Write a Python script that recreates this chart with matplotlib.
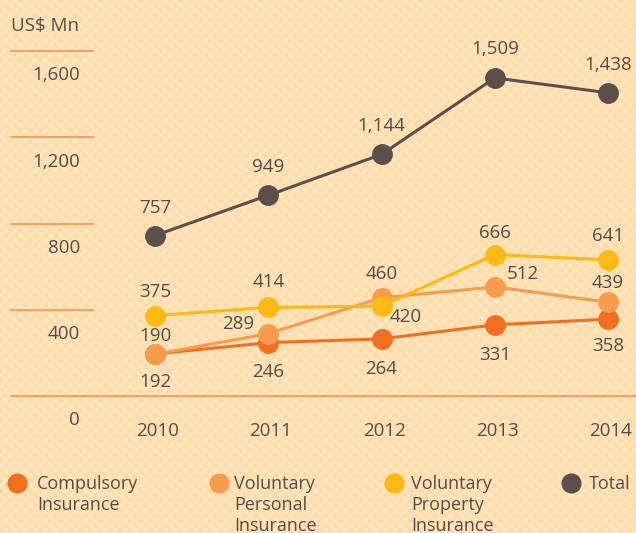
import numpy as np
import matplotlib.pyplot as plt
from matplotlib.lines import Line2D

plt.rcParams['font.family'] = ['Open Sans', 'DejaVu Sans']

years = [2010, 2011, 2012, 2013, 2014]
compulsory = [192, 246, 264, 331, 358]
vol_personal = [190, 289, 460, 512, 439]
vol_property = [375, 414, 420, 666, 641]
total = [757, 949, 1144, 1509, 1438]
y_ticks = [0, 400, 800, 1200, 1600]

TEXT = '#554c4a'
RULE = '#f49354'

series = [
    ("Compulsory\nInsurance", compulsory, '#f26f21'),
    ("Voluntary\nPersonal\nInsurance", vol_personal, '#f79b4c'),
    ("Voluntary\nProperty\nInsurance", vol_property, '#fdb913'),
    ("Total", total, '#5b4f4c'),
]

# label offsets (px) relative to each marker, per series and year
offsets = [
    [(0, -28), (0, -29), (0, -30), (0, -30), (0, -27)],
    [(0, 18), (-30, 10), (0, 24), (28, 13), (0, 19)],
    [(0, 24), (0, 25), (24, -11), (0, 22), (0, 24)],
    [(0, 28), (0, 28), (0, 28), (0, 29), (0, 28)],
]

W, H = 636, 533
fig = plt.figure(figsize=(W / 100, H / 100), dpi=100)

# soft checkered background
yy, xx = np.mgrid[0:H, 0:W]
t = (np.cos(2 * np.pi * xx / 10) * np.cos(2 * np.pi * yy / 10) + 1) / 2
light = np.array([255, 234, 200]) / 255
dark = np.array([253, 215, 160]) / 255
bg = light + (dark - light) * t[..., None]
fig.figimage(bg, 0, 0, zorder=-10)

# scale rules on their own axis
gax = fig.add_axes([0, 0, 1, 1], zorder=-1)
gax.patch.set_alpha(0)
gax.set_xlim(0, 1)
gax.set_ylim(-635.4, 1836.7)
gax.axis('off')
for v in y_ticks:
    x1 = 1.0 if v == 0 else 0.146
    gax.plot([0.017, x1], [v, v], color=RULE, lw=1.2)
    gax.annotate(f"{v:,}", xy=(0.126, v), xytext=(0, -17.5),
                 textcoords='offset points', ha='right', va='center',
                 fontsize=13.5, color=TEXT)

ax = fig.add_axes([0, 0, 1, 1], zorder=1)
ax.patch.set_alpha(0)
ax.set_xlim(2008.631, 2014.247)
ax.set_ylim(-662.2, 1880.7)
ax.axis('off')

fig.text(11 / W, 1 - 26 / H, "US$ Mn", ha='left', va='center',
         fontsize=13.5, color=TEXT)

for (name, vals, color), offs in zip(series, offsets):
    ax.plot(years, vals, color=color, lw=2.2, marker='o', markersize=14,
            zorder=3)
    for x, v, (dx, dy) in zip(years, vals, offs):
        ax.annotate(f"{v:,}", xy=(x, v), xytext=(dx * 0.72, dy * 0.72),
                    textcoords='offset points', ha='center', va='center',
                    fontsize=13.5, color=TEXT, zorder=4)

for x in years:
    ax.annotate(str(x), xy=(x, 0), xycoords=('data', 'axes fraction'),
                xytext=(2, 1 - 431 / H), textcoords=('offset points', 'axes fraction'),
                ha='center', va='center', fontsize=13.5, color=TEXT)

# legend
legend_pos = [(17, 37), (219, 234), (394, 411), (571, 589)]
for (name, vals, color), (mx, tx) in zip(series, legend_pos):
    fig.add_artist(Line2D([mx / W], [1 - 483 / H], marker='o', markersize=13.5,
                          color=color, transform=fig.transFigure))
    fig.text(tx / W, 1 - 475 / H, name, ha='left', va='top', fontsize=13,
             color=TEXT, linespacing=1.2)

fig.savefig("out.png", dpi=100)
